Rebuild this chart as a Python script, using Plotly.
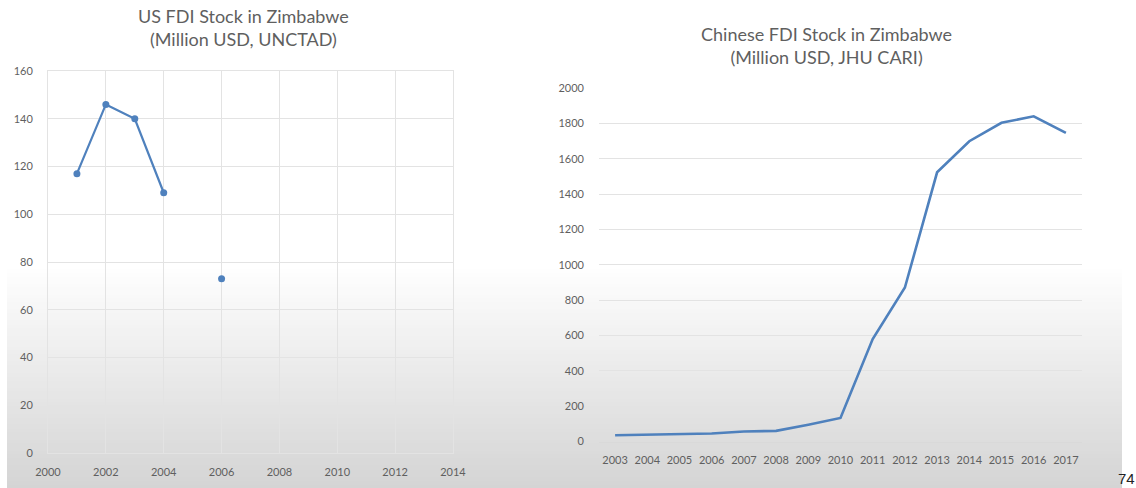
import plotly.graph_objects as go

# US FDI stock in Zimbabwe (million USD, UNCTAD); 2005 not reported
us_years = [2001, 2002, 2003, 2004, 2005, 2006]
us_stock = [117, 146, 140, 109, None, 73]
us_xticks = [2000, 2002, 2004, 2006, 2008, 2010, 2012, 2014]
us_yticks = [0, 20, 40, 60, 80, 100, 120, 140, 160]

# Chinese FDI stock in Zimbabwe (million USD, JHU CARI)
cn_years = list(range(2003, 2018))
cn_stock = [35, 37, 40, 45, 57, 60, 95, 133, 580, 871, 1523, 1699, 1803, 1840, 1746]
cn_yticks = [0, 200, 400, 600, 800, 1000, 1200, 1400, 1600, 1800, 2000]

W, H = 1136, 488
LINE = "#4f81bd"
TEXT = "#5f5f5f"
GRID = "#e3e3e3"
FONT = "Lato"


def px(x):
    return x / W


def py(y):
    return 1 - y / H


fig = go.Figure()

fig.add_trace(go.Scatter(
    x=us_years, y=us_stock, mode="lines+markers",
    line=dict(color=LINE, width=2.2), marker=dict(color=LINE, size=7),
    connectgaps=False, xaxis="x", yaxis="y", hoverinfo="x+y",
))
fig.add_trace(go.Scatter(
    x=cn_years, y=cn_stock, mode="lines",
    line=dict(color=LINE, width=2.6), xaxis="x2", yaxis="y2", hoverinfo="x+y",
))

tickfont = dict(family=FONT, size=11, color=TEXT)

# soft grey fade across the lower part of the slide; each band runs to the
# bottom edge so that the bands overlap and leave no seams
shapes = []
top, bottom = 265, H
n = 60
for i in range(n):
    y0 = top + (bottom - top) * i / n
    t = (i + 0.5) / n
    g = int(round(255 - (255 - 212) * t))
    shapes.append(dict(
        type="rect", xref="paper", yref="paper",
        x0=px(7), x1=px(1122), y0=0, y1=py(y0),
        fillcolor=f"rgb({g},{g},{g})", line=dict(width=0), layer="below",
    ))

annotations = [
    dict(text="US FDI Stock in Zimbabwe<br>(Million USD, UNCTAD)",
         x=px(243), y=py(3), xref="paper", yref="paper",
         xanchor="center", yanchor="top", showarrow=False,
         font=dict(family=FONT, size=18, color=TEXT), align="center"),
    dict(text="Chinese FDI Stock in Zimbabwe<br>(Million USD, JHU CARI)",
         x=px(826), y=py(21), xref="paper", yref="paper",
         xanchor="center", yanchor="top", showarrow=False,
         font=dict(family=FONT, size=18, color=TEXT), align="center"),
    dict(text="74", x=px(1137), y=py(478), xref="paper", yref="paper",
         xanchor="right", yanchor="middle", showarrow=False,
         font=dict(family="Liberation Sans", size=15, color="#222222")),
]

fig.update_layout(
    width=W, height=H,
    margin=dict(l=0, r=0, t=0, b=0, autoexpand=False),
    paper_bgcolor="white",
    plot_bgcolor="rgba(0,0,0,0)",
    showlegend=False,
    shapes=shapes,
    annotations=annotations,
    xaxis=dict(
        domain=[px(48), px(453)], range=[2000, 2014],
        tickvals=us_xticks, ticktext=[str(v) for v in us_xticks],
        showgrid=True, gridcolor=GRID, gridwidth=1,
        showline=True, linecolor=GRID, mirror=True,
        zeroline=False, ticks="", tickfont=tickfont, ticklabelstandoff=9,
        automargin=False, fixedrange=True,
    ),
    yaxis=dict(
        domain=[py(453), py(71)], range=[0, 160],
        tickvals=us_yticks,
        showgrid=True, gridcolor=GRID, gridwidth=1,
        showline=True, linecolor=GRID, mirror=True,
        zeroline=False, ticks="", tickfont=tickfont, ticklabelstandoff=12,
        automargin=False, fixedrange=True,
    ),
    xaxis2=dict(
        domain=[px(599), px(1082)], range=[2002.5, 2017.5],
        tickvals=cn_years, ticktext=[str(v) for v in cn_years],
        showgrid=False, showline=True, linecolor="#d9d9d9",
        zeroline=False, ticks="", tickfont=tickfont, ticklabelstandoff=8,
        anchor="y2", automargin=False, fixedrange=True,
    ),
    yaxis2=dict(
        domain=[py(441.5), py(88)], range=[0, 2000],
        tickvals=cn_yticks,
        showgrid=True, gridcolor=GRID, gridwidth=1,
        showline=False, zeroline=False, ticks="",
        tickfont=tickfont, ticklabelstandoff=14,
        anchor="x2", automargin=False, fixedrange=True,
    ),
)

fig.write_html("out.html")
